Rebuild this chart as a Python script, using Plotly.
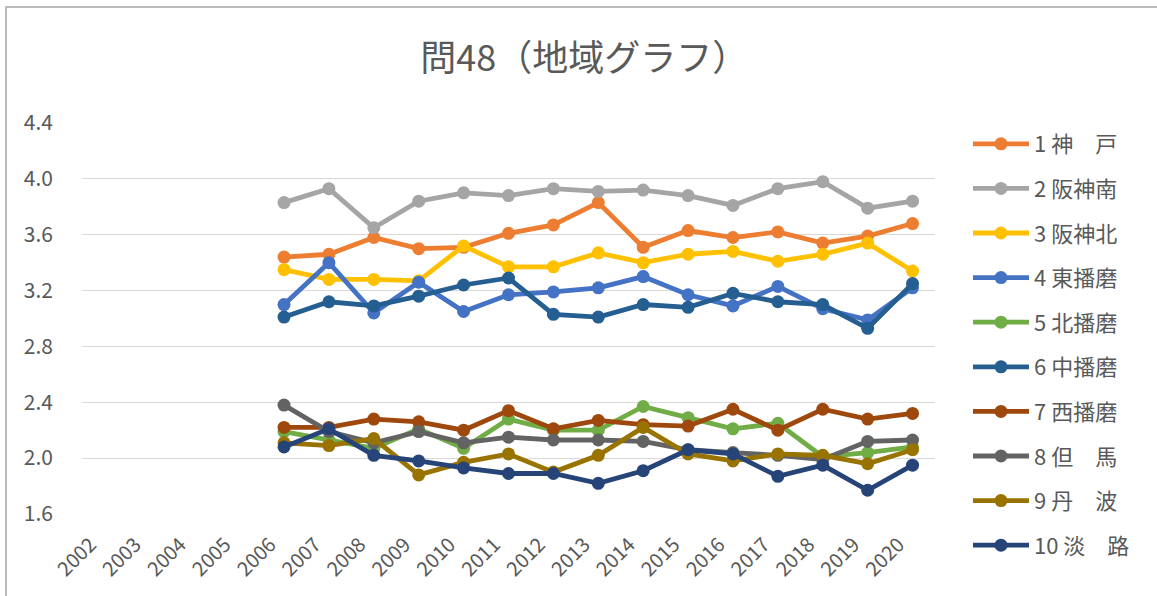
import plotly.graph_objects as go

# Survey years shown on the category axis (data starts in 2006)
years = [str(y) for y in range(2002, 2021)]
data_years = [str(y) for y in range(2006, 2021)]

# Regional scores, 2006-2020
kobe        = [3.44, 3.46, 3.58, 3.50, 3.51, 3.61, 3.67, 3.83, 3.51, 3.63, 3.58, 3.62, 3.54, 3.59, 3.68]
hanshin_s   = [3.83, 3.93, 3.65, 3.84, 3.90, 3.88, 3.93, 3.91, 3.92, 3.88, 3.81, 3.93, 3.98, 3.79, 3.84]
hanshin_n   = [3.35, 3.28, 3.28, 3.27, 3.52, 3.37, 3.37, 3.47, 3.40, 3.46, 3.48, 3.41, 3.46, 3.54, 3.34]
higashi_h   = [3.10, 3.40, 3.04, 3.26, 3.05, 3.17, 3.19, 3.22, 3.30, 3.17, 3.09, 3.23, 3.07, 2.99, 3.22]
kita_h      = [2.19, 2.13, 2.07, 2.21, 2.07, 2.28, 2.20, 2.20, 2.37, 2.29, 2.21, 2.25, 2.01, 2.04, 2.08]
naka_h      = [3.01, 3.12, 3.09, 3.16, 3.24, 3.29, 3.03, 3.01, 3.10, 3.08, 3.18, 3.12, 3.10, 2.93, 3.25]
nishi_h     = [2.22, 2.22, 2.28, 2.26, 2.20, 2.34, 2.21, 2.27, 2.24, 2.23, 2.35, 2.20, 2.35, 2.28, 2.32]
tajima      = [2.38, 2.19, 2.11, 2.19, 2.11, 2.15, 2.13, 2.13, 2.12, 2.06, 2.04, 2.02, 1.99, 2.12, 2.13]
tamba       = [2.11, 2.09, 2.14, 1.88, 1.97, 2.03, 1.90, 2.02, 2.22, 2.03, 1.98, 2.03, 2.02, 1.96, 2.06]
awaji       = [2.08, 2.21, 2.02, 1.98, 1.93, 1.89, 1.89, 1.82, 1.91, 2.06, 2.03, 1.87, 1.95, 1.77, 1.95]

names = ["1 神\u3000戸", "2 阪神南", "3 阪神北", "4 東播磨", "5 北播磨",
         "6 中播磨", "7 西播磨", "8 但\u3000馬", "9 丹\u3000波", "10 淡\u3000路"]
series = [kobe, hanshin_s, hanshin_n, higashi_h, kita_h,
          naka_h, nishi_h, tajima, tamba, awaji]
colors = ["#ED7D31", "#A5A5A5", "#FFC000", "#4472C4", "#70AD47",
          "#255E91", "#9E480E", "#636363", "#997300", "#264478"]

y_ticks = [1.6, 2.0, 2.4, 2.8, 3.2, 3.6, 4.0, 4.4]

FONT = "Noto Sans CJK JP"
TEXT = "#595959"

fig = go.Figure()
for i, (name, vals, col) in enumerate(zip(names, series, colors)):
    fig.add_trace(go.Scatter(
        x=data_years, y=vals, name=name, mode="lines+markers",
        line=dict(color=col, width=4.8),
        marker=dict(color=col, size=13),
        legendgroup=f"g{i}",
    ))

W, H = 1157, 596
L, R, T, B = 82, 222, 123, 82
pw, ph = W - L - R, H - T - B

# outer chart frame
fig.add_shape(type="rect", xref="paper", yref="paper",
              x0=(6 - L) / pw, x1=(W + 5 - L) / pw,
              y0=(H - B - (H + 5)) / ph, y1=(H - B - 7) / ph,
              line=dict(color="#A6A6A6", width=1.5), fillcolor="rgba(0,0,0,0)",
              layer="below")

fig.update_layout(
    width=W, height=H,
    margin=dict(l=L, r=R, t=T, b=B),
    paper_bgcolor="white", plot_bgcolor="white",
    font=dict(family=FONT, color=TEXT),
    title=dict(text="問48（地域グラフ）", x=0.505, xanchor="center",
               y=(H - 58) / H, yanchor="middle",
               font=dict(size=36, color=TEXT, family=FONT)),
    showlegend=True,
    legend=dict(x=(968 - L) / pw, xanchor="left", y=1 - (123 - T) / ph, yanchor="top",
                font=dict(size=22, color=TEXT, family=FONT),
                tracegroupgap=13, itemwidth=56, maxheight=600,
                bgcolor="rgba(0,0,0,0)"),
    xaxis=dict(type="category", categoryorder="array", categoryarray=years,
               range=[-0.5, len(years) - 0.5], tickangle=-45,
               showgrid=False, showline=False, ticks="",
               ticklabelstandoff=14, ticklabelshift=-14,
               tickfont=dict(size=20, color=TEXT, family=FONT)),
    yaxis=dict(range=[1.6, 4.4], tickvals=y_ticks,
               ticktext=[f"{v:.1f}" for v in y_ticks],
               showgrid=True, gridcolor="#D9D9D9", gridwidth=1.3,
               zeroline=False, showline=False, ticks="",
               ticklabelstandoff=28,
               tickfont=dict(size=21, color=TEXT, family=FONT)),
)

fig.write_html("out.html")
